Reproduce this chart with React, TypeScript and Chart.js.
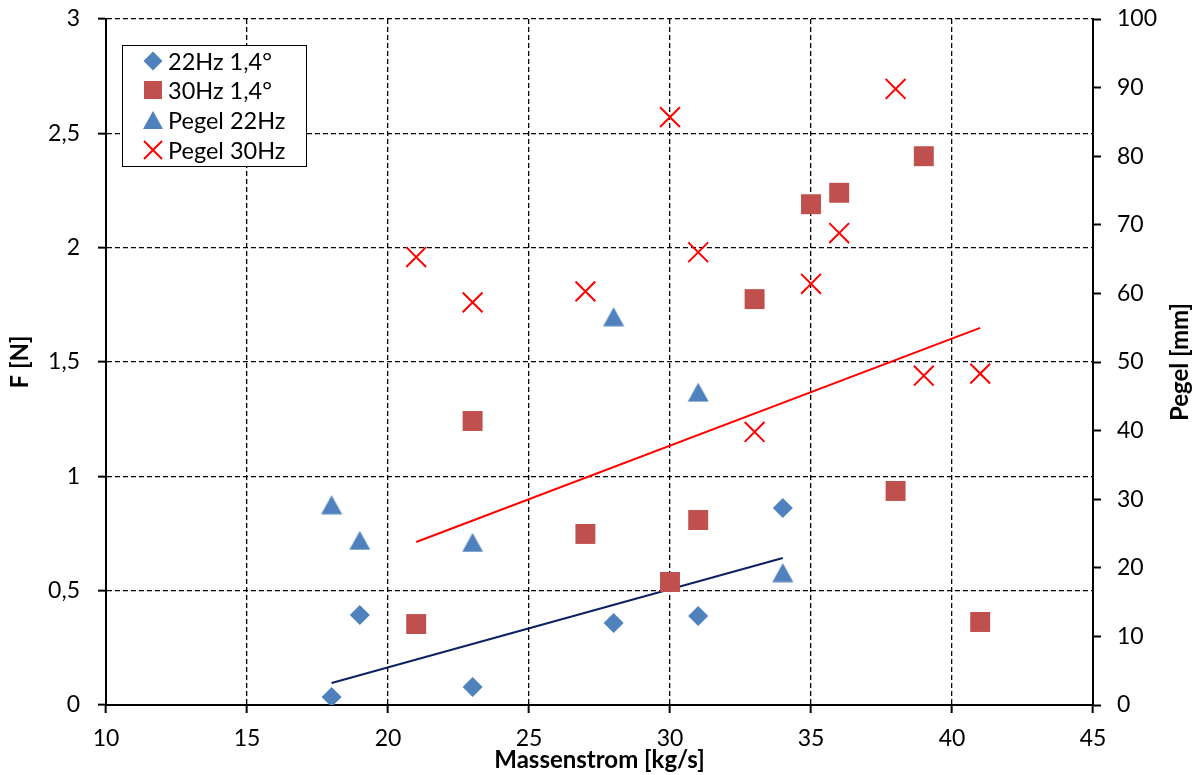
import React, { useEffect, useRef } from "react";
import { Chart, registerables } from "chart.js";

Chart.register(...registerables);

// ---- data ----
const x22: number[] = [18, 19, 23, 28, 31, 34];
const f22: number[] = [0.035, 0.394, 0.079, 0.359, 0.389, 0.861];
const pegel22: number[] = [29.2, 24.0, 23.7, 56.6, 45.6, 19.3];

const x30: number[] = [21, 23, 27, 30, 31, 33, 35, 36, 38, 39, 41];
const f30: number[] = [0.354, 1.242, 0.748, 0.538, 0.809, 1.775, 2.19, 2.24, 0.936, 2.4, 0.363];
const pegel30: number[] = [65.3, 58.7, 60.3, 85.7, 66.0, 39.8, 61.4, 68.8, 89.8, 48.0, 48.3];

const trend22X: number[] = [18, 34];
const trend22Y: number[] = [0.096, 0.643];
const trend30X: number[] = [21, 41];
const trend30Y: number[] = [0.713, 1.649];

const legendLabels: string[] = ["22Hz 1,4°", "30Hz 1,4°", "Pegel 22Hz", "Pegel 30Hz"];

const xTitle = "Massenstrom [kg/s]";
const yTitle = "F [N]";
const y2Title = "Pegel [mm]";

const BLUE = "#4F81BD";
const RED_SQ = "#C0504D";
const RED = "#FF0000";
const NAVY = "#0B2161";
const FONT = "Lato";

function pts(xs: number[], ys: number[]) {
  return xs.map((x, i) => ({ x, y: ys[i] }));
}

function makeTriangle(): HTMLCanvasElement {
  const c = document.createElement("canvas");
  c.width = 22;
  c.height = 20;
  const g = c.getContext("2d")!;
  g.fillStyle = BLUE;
  g.beginPath();
  g.moveTo(11, 0.5);
  g.lineTo(21.5, 19.5);
  g.lineTo(0.5, 19.5);
  g.closePath();
  g.fill();
  return c;
}

const fmt = (v: number) => String(v).replace(".", ",");

const extrasPlugin = {
  id: "extras",
  afterDraw(chart: any) {
    const ctx = chart.ctx as CanvasRenderingContext2D;
    const area = chart.chartArea;
    // right axis title (reads bottom to top)
    ctx.save();
    ctx.font = `bold 24px ${FONT}`;
    ctx.fillStyle = "#000";
    ctx.textAlign = "center";
    ctx.textBaseline = "middle";
    ctx.translate(1180, (area.top + area.bottom) / 2);
    ctx.rotate(-Math.PI / 2);
    ctx.fillText(y2Title, 0, 0);
    ctx.restore();

    // legend
    ctx.save();
    const lx = 122.5, ly = 45.5, lw = 184, lh = 121;
    ctx.fillStyle = "#fff";
    ctx.fillRect(lx, ly, lw, lh);
    ctx.strokeStyle = "#000";
    ctx.lineWidth = 1;
    ctx.strokeRect(lx, ly, lw, lh);
    const rows = [61, 90, 120, 150];
    const mx = 153;
    ctx.font = `23.5px ${FONT}`;
    ctx.textAlign = "left";
    ctx.textBaseline = "middle";
    rows.forEach((ry, i) => {
      ctx.save();
      if (i === 0) {
        ctx.fillStyle = BLUE;
        ctx.beginPath();
        ctx.moveTo(mx, ry - 9.5);
        ctx.lineTo(mx + 9.5, ry);
        ctx.lineTo(mx, ry + 9.5);
        ctx.lineTo(mx - 9.5, ry);
        ctx.closePath();
        ctx.fill();
      } else if (i === 1) {
        ctx.fillStyle = RED_SQ;
        ctx.fillRect(mx - 9, ry - 9, 18, 18);
      } else if (i === 2) {
        ctx.fillStyle = BLUE;
        ctx.beginPath();
        ctx.moveTo(mx, ry - 9);
        ctx.lineTo(mx + 10, ry + 9);
        ctx.lineTo(mx - 10, ry + 9);
        ctx.closePath();
        ctx.fill();
      } else {
        ctx.strokeStyle = RED;
        ctx.lineWidth = 2;
        ctx.beginPath();
        ctx.moveTo(mx - 9, ry - 9);
        ctx.lineTo(mx + 9, ry + 9);
        ctx.moveTo(mx + 9, ry - 9);
        ctx.lineTo(mx - 9, ry + 9);
        ctx.stroke();
      }
      ctx.restore();
      ctx.fillStyle = "#000";
      ctx.fillText(legendLabels[i], 168, ry + 1);
    });
    ctx.restore();
  },
};

export default function App() {
  const ref = useRef<HTMLCanvasElement | null>(null);

  useEffect(() => {
    if (!ref.current) return;
    const tri = makeTriangle();
    const tickFont = { family: FONT, size: 23 };
    const titleFont = { family: FONT, size: 24, weight: "bold" as const };
    const gridDash = [5, 3];
    const chart = new Chart(ref.current, {
      type: "scatter",
      data: {
        datasets: [
          {
            label: legendLabels[0],
            data: pts(x22, f22),
            yAxisID: "y",
            pointStyle: "rectRot",
            pointRadius: 10,
            backgroundColor: BLUE,
            borderColor: BLUE,
            borderWidth: 0,
          },
          {
            label: legendLabels[1],
            data: pts(x30, f30),
            yAxisID: "y",
            pointStyle: "rect",
            pointRadius: 14.1,
            backgroundColor: RED_SQ,
            borderColor: RED_SQ,
            borderWidth: 0,
          },
          {
            label: legendLabels[2],
            data: pts(x22, pegel22),
            yAxisID: "y2",
            pointStyle: tri as any,
            pointRadius: 10,
            backgroundColor: BLUE,
            borderColor: BLUE,
          },
          {
            label: legendLabels[3],
            data: pts(x30, pegel30),
            yAxisID: "y2",
            pointStyle: "crossRot",
            pointRadius: 14,
            borderColor: RED,
            backgroundColor: RED,
            borderWidth: 2,
          },
          {
            label: "trend22",
            data: pts(trend22X, trend22Y),
            yAxisID: "y",
            showLine: true,
            pointRadius: 0,
            borderColor: NAVY,
            borderWidth: 2,
          },
          {
            label: "trend30",
            data: pts(trend30X, trend30Y),
            yAxisID: "y",
            showLine: true,
            pointRadius: 0,
            borderColor: RED,
            borderWidth: 2,
          },
        ],
      },
      options: {
        responsive: false,
        animation: false,
        events: [],
        layout: { padding: { top: 19, left: 0, right: 0, bottom: 0 } },
        plugins: {
          legend: { display: false },
          tooltip: { enabled: false },
        },
        scales: {
          x: {
            type: "linear",
            position: "bottom",
            min: 10,
            max: 45,
            ticks: { stepSize: 5, color: "#000", font: tickFont, padding: 12, maxRotation: 0 },
            grid: {
              color: "#000",
              lineWidth: 1.3,
              drawTicks: true,
              tickLength: 8,
              tickColor: "#000",
              tickWidth: 2,
            },
            border: { display: true, color: "#000", width: 2, dash: gridDash },
            title: { display: true, text: xTitle, color: "#000", font: titleFont, padding: { top: 0, bottom: 0 } },
            afterFit: (s: any) => {
              s.height = 70;
              s.paddingLeft = 0;
              s.paddingRight = 0;
            },
          },
          y: {
            type: "linear",
            position: "left",
            min: 0,
            max: 3,
            ticks: { stepSize: 0.5, color: "#000", font: tickFont, padding: 18, callback: (v: any) => fmt(Number(v)) },
            grid: {
              color: "#000",
              lineWidth: 1.3,
              drawTicks: true,
              tickLength: 8,
              tickColor: "#000",
              tickWidth: 2,
            },
            border: { display: true, color: "#000", width: 2, dash: gridDash },
            title: { display: true, text: yTitle, color: "#000", font: titleFont, padding: { top: 6, bottom: 0 } },
            afterFit: (s: any) => {
              s.width = 106;
              s.paddingTop = 0;
              s.paddingBottom = 0;
            },
          },
          y2: {
            type: "linear",
            position: "right",
            min: 0,
            max: 100,
            ticks: { stepSize: 10, color: "#000", font: tickFont, padding: 16 },
            grid: {
              drawOnChartArea: false,
              drawTicks: true,
              tickLength: 8,
              tickColor: "#000",
              tickWidth: 2,
              color: "#000",
            },
            border: { display: true, color: "#000", width: 2 },
            afterFit: (s: any) => {
              s.width = 103;
              s.paddingTop = 0;
              s.paddingBottom = 0;
            },
          },
        },
      },
      plugins: [extrasPlugin],
    });
    return () => chart.destroy();
  }, []);

  return (
    <div style={{ position: "fixed", left: 0, top: 0, width: 1196, height: 775, background: "#fff" }}>
      <canvas ref={ref} width={1196} height={775} style={{ width: 1196, height: 775, display: "block" }} />
    </div>
  );
}
